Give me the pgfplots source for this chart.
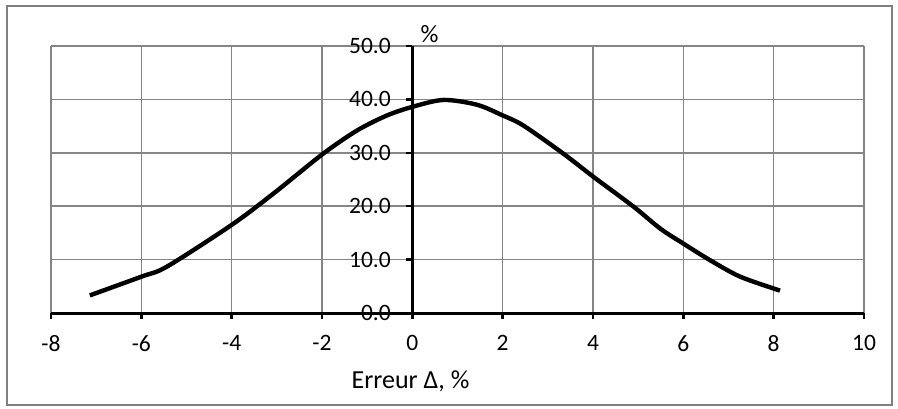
\documentclass[border=0pt]{standalone}
\usepackage{fontspec}
\setmainfont{Carlito}
\usepackage{pgfplots}
\pgfplotsset{compat=1.18}
\begin{document}
\begin{tikzpicture}
\path (-51pt,-95pt) rectangle (847pt,313pt);
\draw[color=black!50, line width=1.4pt] (-44pt,-92pt) rectangle (841pt,307pt);
\begin{axis}[
  at={(0pt,0pt)}, anchor=south west,
  scale only axis, width=813pt, height=267pt,
  xmin=-8, xmax=10, ymin=0, ymax=50,
  axis x line*=bottom, axis y line*=middle,
  hide obscured x ticks=false, hide obscured y ticks=false,
  xtick={-8,-6,...,10}, xticklabels={-8,-6,-4,-2,0,2,4,6,8,10},
  ytick={0,10,...,50}, yticklabels={0.0,10.0,20.0,30.0,40.0,50.0},
  grid=major, major grid style={black!48, line width=1.5pt},
  axis line style={black, line width=3pt},
  tick style={black, line width=2.4pt},
  tick align=outside, major tick length=6pt,
  xticklabel style={font=\fontsize{23.5}{27}\selectfont, yshift=-13pt},
  yticklabel style={font=\fontsize{23.5}{27}\selectfont, xshift=-12pt},
  clip=false,
]
\addplot[black, line width=4.4pt, smooth, tension=0.5] coordinates {
(-7.14,3.3) (-6.0,6.8) (-5.43,8.7) (-4.0,16.5) (-3.07,22.4) (-1.98,29.8)
(-1.22,34.2) (-0.56,37.0) (0,38.6) (0.69,39.9) (1.43,39.0) (2.0,37.0)
(2.46,35.1) (3.35,29.8) (4.01,25.5) (4.9,19.9) (5.49,15.8) (6.0,13.0)
(6.59,9.9) (7.26,6.8) (8.14,4.2)
};
\node[anchor=base, font=\fontsize{25}{29}\selectfont] at (axis cs:0.38,50.7) {\%};
\node[anchor=base, font=\fontsize{26}{30}\selectfont, yshift=-75pt] at (axis cs:-0.04,0) {Erreur Δ, \%};
\end{axis}
\end{tikzpicture}
\end{document}
